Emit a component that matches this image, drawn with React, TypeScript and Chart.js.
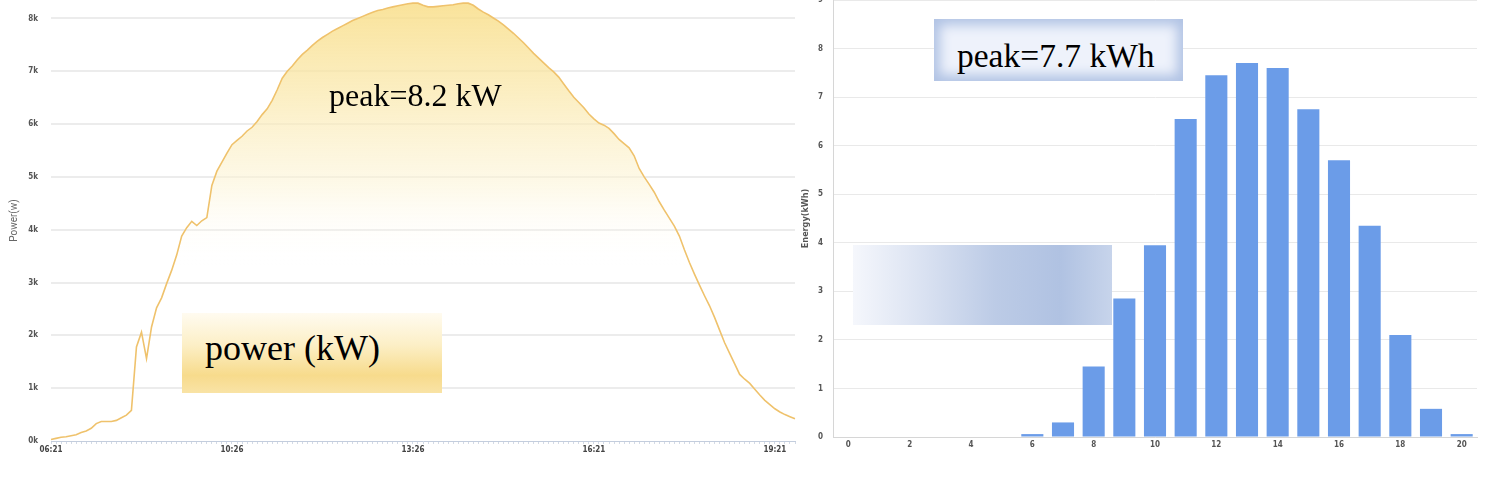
import React, { useEffect, useRef } from 'react';
import { Chart, registerables } from 'chart.js';

Chart.register(...registerables);

// Left chart: power curve (kW), one sample per category slot
const powerKW = [
  0.03, 0.05, 0.07, 0.08, 0.10, 0.12, 0.16, 0.19, 0.24, 0.33,
  0.37, 0.37, 0.37, 0.39, 0.44, 0.49, 0.58, 1.78, 2.06, 1.56,
  2.16, 2.52, 2.71, 2.98, 3.23, 3.52, 3.88, 4.04, 4.16, 4.08,
  4.17, 4.23, 4.84, 5.11, 5.28, 5.45, 5.61, 5.69, 5.77, 5.87,
  5.94, 6.05, 6.18, 6.29, 6.45, 6.65, 6.87, 7.00, 7.10, 7.22,
  7.32, 7.40, 7.49, 7.57, 7.64, 7.70, 7.76, 7.81, 7.86, 7.91,
  7.96, 8.00, 8.04, 8.08, 8.12, 8.15, 8.17, 8.20, 8.22, 8.24,
  8.26, 8.28, 8.29, 8.29, 8.25, 8.22, 8.22, 8.23, 8.24, 8.25,
  8.26, 8.28, 8.29, 8.29, 8.25, 8.18, 8.12, 8.07, 8.01, 7.95,
  7.88, 7.80, 7.72, 7.63, 7.54, 7.44, 7.34, 7.25, 7.16, 7.07,
  6.99, 6.89, 6.76, 6.63, 6.51, 6.41, 6.31, 6.19, 6.10, 6.02,
  5.98, 5.92, 5.82, 5.71, 5.63, 5.55, 5.40, 5.16, 5.00, 4.86,
  4.71, 4.53, 4.37, 4.22, 4.07, 3.88, 3.62, 3.38, 3.16, 2.95,
  2.75, 2.56, 2.34, 2.10, 1.86, 1.66, 1.46, 1.26, 1.17, 1.09,
  0.98, 0.87, 0.77, 0.69, 0.61, 0.55, 0.50, 0.46, 0.42,
];
const timeTickLabels = ['06:21', '10:26', '13:26', '16:21', '19:21'];
const timeTickEvery = 36;
const powerMax = 8.35;

// Right chart: hourly energy (kWh)
const hours = ['0', '1', '2', '3', '4', '5', '6', '7', '8', '9', '10', '11', '12', '13', '14', '15', '16', '17', '18', '19', '20'];
const energyKWh = [0, 0, 0, 0, 0, 0, 0.06, 0.3, 1.45, 2.85, 3.95, 6.55, 7.45, 7.7, 7.6, 6.75, 5.7, 4.35, 2.1, 0.58, 0.06];
const energyMax = 9;

const tickFont = "'Liberation Sans Narrow', 'DejaVu Sans Condensed', Roboto, sans-serif";
const serif = "'Liberation Serif', 'Times New Roman', serif";

const timeLabels = powerKW.map((_, i) =>
  i % timeTickEvery === 0 && timeTickLabels[i / timeTickEvery] ? timeTickLabels[i / timeTickEvery] : String(i)
);

export default function App() {
  const leftRef = useRef<HTMLCanvasElement | null>(null);
  const rightRef = useRef<HTMLCanvasElement | null>(null);

  useEffect(() => {
    const left = new Chart(leftRef.current as HTMLCanvasElement, {
      type: 'line',
      data: {
        labels: timeLabels,
        datasets: [
          {
            data: powerKW,
            borderColor: '#efc26c',
            borderWidth: 1.6,
            pointRadius: 0,
            tension: 0,
            fill: 'origin',
            backgroundColor: (ctx: any) => {
              const { chart } = ctx;
              const area = chart.chartArea;
              if (!area) return 'rgba(0,0,0,0)';
              const g = chart.ctx.createLinearGradient(0, area.top, 0, area.top + 265);
              g.addColorStop(0, 'rgba(248,220,130,0.82)');
              g.addColorStop(0.35, 'rgba(250,231,168,0.7)');
              g.addColorStop(0.7, 'rgba(252,244,214,0.55)');
              g.addColorStop(1, 'rgba(255,255,255,0)');
              return g;
            },
          },
        ],
      },
      options: {
        animation: false,
        responsive: false,
        layout: { padding: { left: 0, right: 5, top: 0, bottom: 0 } },
        plugins: { legend: { display: false }, tooltip: { enabled: false } },
        scales: {
          x: {
            type: 'category',
            offset: false,
            grid: { display: true, drawOnChartArea: false, drawTicks: true, tickLength: 3, color: '#d3dae6', lineWidth: 1 },
            border: { display: true, color: '#c3cddd', dash: [1, 2] },
            ticks: {
              autoSkip: false,
              maxRotation: 0,
              minRotation: 0,
              padding: 1,
              color: '#444',
              font: { family: tickFont, size: 8, weight: 'bold' },
              callback: (_v: any, i: number) =>
                i % timeTickEvery === 0 && timeTickLabels[i / timeTickEvery] ? timeTickLabels[i / timeTickEvery] : '',
            },
            afterFit: (s: any) => {
              s.height = 45;
              s.paddingLeft = 0;
              s.paddingRight = 0;
            },
          },
          y: {
            min: 0,
            max: powerMax,
            ticks: {
              stepSize: 1,
              includeBounds: false,
              padding: 13,
              color: '#555',
              font: { family: tickFont, size: 8, weight: 'bold' },
              callback: (v: any) => `${v}k`,
            },
            grid: {
              drawTicks: false,
              lineWidth: 2,
              color: (ctx: any) => (ctx.tick && ctx.tick.value === 0 ? 'rgba(0,0,0,0)' : '#ececec'),
            },
            border: { display: false },
            title: {
              display: true,
              text: 'Power(w)',
              color: '#666',
              font: { family: 'Roboto, sans-serif', size: 10 },
              padding: { top: 8, bottom: 0 },
            },
            afterFit: (s: any) => {
              s.width = 51;
              s.paddingTop = 0;
              s.paddingBottom = 0;
            },
          },
        },
      } as any,
    });

    const right = new Chart(rightRef.current as HTMLCanvasElement, {
      type: 'bar',
      data: {
        labels: hours,
        datasets: [{ data: energyKWh, backgroundColor: '#6b9ce8', borderWidth: 0 }],
      },
      options: {
        animation: false,
        responsive: false,
        layout: { padding: { left: 0, right: 25, top: 0, bottom: 0 } },
        plugins: { legend: { display: false }, tooltip: { enabled: false } },
        scales: {
          x: {
            grid: { drawOnChartArea: false, drawTicks: false },
            border: { display: true, color: '#d6d6d6' },
            ticks: {
              autoSkip: false,
              maxRotation: 0,
              minRotation: 0,
              padding: 3,
              color: '#555',
              font: { family: tickFont, size: 8, weight: 'bold' },
              callback: (_v: any, i: number) => (i % 2 === 0 ? hours[i] : ''),
            },
            afterFit: (s: any) => {
              s.height = 49;
              s.paddingLeft = 0;
              s.paddingRight = 0;
            },
          },
          y: {
            min: 0,
            max: energyMax,
            ticks: {
              stepSize: 1,
              padding: 10,
              color: '#555',
              font: { family: tickFont, size: 8, weight: 'bold' },
            },
            grid: { drawTicks: false, color: '#e9e9e9', lineWidth: 1 },
            border: { display: true, color: '#d6d6d6' },
            title: {
              display: true,
              text: 'Energy(kWh)',
              color: '#555',
              font: { family: tickFont, size: 9, weight: 'bold' },
              padding: { top: 0, bottom: 0 },
            },
            afterFit: (s: any) => {
              s.width = 33;
              s.paddingTop = 0;
              s.paddingBottom = 0;
            },
          },
        },
      } as any,
    });

    return () => {
      left.destroy();
      right.destroy();
    };
  }, []);

  return (
    <div style={{ position: 'absolute', left: 0, top: 0, width: 1502, height: 486, overflow: 'hidden', background: '#fff' }}>
      <canvas ref={leftRef} width={800} height={486} style={{ position: 'absolute', left: 0, top: 0, width: 800, height: 486 }} />
      <canvas ref={rightRef} width={702} height={486} style={{ position: 'absolute', left: 800, top: 0, width: 702, height: 486 }} />

      <div
        style={{
          position: 'absolute', left: 329, top: 79, fontFamily: serif, fontSize: 32, lineHeight: '32px',
          color: '#000', whiteSpace: 'nowrap',
        }}
      >
        peak=8.2 kW
      </div>

      <div
        style={{
          position: 'absolute', left: 182, top: 313, width: 260, height: 80,
          background: 'linear-gradient(to bottom, #fffbf0 0%, #fcefc6 40%, #f7db8c 78%, #f9e3a6 100%)',
        }}
      />
      <div
        style={{
          position: 'absolute', left: 205, top: 330, fontFamily: serif, fontSize: 36, lineHeight: '36px',
          color: '#000', whiteSpace: 'nowrap',
        }}
      >
        power (kW)
      </div>

      <div
        style={{
          position: 'absolute', left: 934, top: 19, width: 249, height: 62,
          background: '#eef2fb', boxShadow: 'inset 0 0 12px 6px #b1c3e4',
        }}
      />
      <div
        style={{
          position: 'absolute', left: 957, top: 39, fontFamily: serif, fontSize: 33.5, lineHeight: '33.5px',
          color: '#000', whiteSpace: 'nowrap',
        }}
      >
        peak=7.7 kWh
      </div>

      <div
        style={{
          position: 'absolute', left: 853, top: 245, width: 259, height: 80,
          background: 'linear-gradient(to right, #f5f7fc 0%, #d9e1f1 28%, #bccbe6 55%, #b0c2e2 80%, #c7d4eb 100%)',
        }}
      />
    </div>
  );
}
